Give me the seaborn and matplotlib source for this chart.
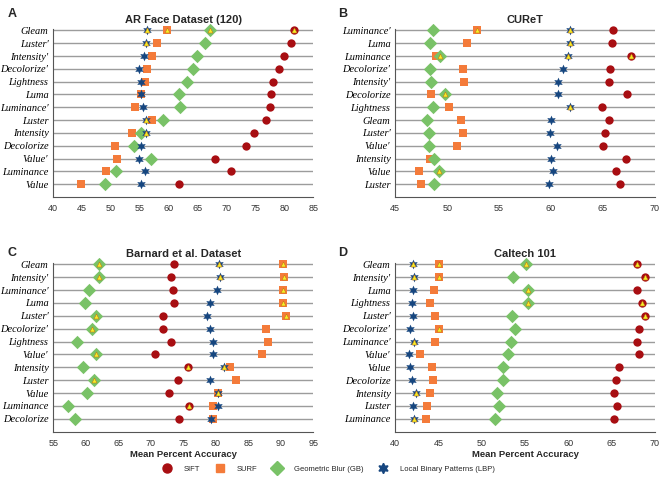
import pandas as pd
import matplotlib.pyplot as plt
import seaborn as sns
from matplotlib.ticker import MultipleLocator
from matplotlib.lines import Line2D

sns.set_style('white')
plt.rcParams['font.family'] = ['Liberation Sans', 'DejaVu Sans']

methods = ['SIFT', 'SURF', 'GB', 'LBP']
legend_names = ['SIFT', 'SURF', 'Geometric Blur (GB)', 'Local Binary Patterns (LBP)']
colors = {'SIFT': '#a80e12', 'SURF': '#f47b3a', 'GB': '#79c267', 'LBP': '#16467f'}
markers = {'SIFT': 'o', 'SURF': 's', 'GB': 'D', 'LBP': (6, 1, 0)}
sizes = {'SIFT': 6.0, 'SURF': 5.6, 'GB': 6.8, 'LBP': 7.0}

# Panel A: AR Face Dataset (120)
a_labels = ["Gleam", "Luster′", "Intensity′", "Decolorize′", "Lightness", "Luma", "Luminance′",
            "Luster", "Intensity", "Decolorize", "Value′", "Luminance", "Value"]
a_sift = [81.7, 81.1, 80.0, 79.0, 78.0, 77.7, 77.5, 76.8, 74.7, 73.4, 68.0, 70.8, 61.8]
a_surf = [59.6, 57.9, 57.1, 56.3, 55.9, 55.1, 54.1, 57.1, 53.7, 50.7, 51.0, 49.1, 44.8]
a_gb = [67.2, 66.3, 64.9, 64.1, 63.1, 61.7, 62.0, 59.0, 55.2, 54.0, 56.9, 50.8, 49.0]
a_lbp = [56.3, 56.0, 55.7, 54.9, 55.1, 55.2, 55.6, 56.0, 56.1, 55.2, 54.9, 55.8, 55.2]
a_best = {'SIFT': ["Gleam"], 'SURF': ["Gleam"], 'GB': ["Gleam"],
          'LBP': ["Gleam", "Luster′", "Luster", "Intensity"]}

# Panel B: CUReT
b_labels = ["Luminance′", "Luma", "Luminance", "Decolorize′", "Intensity′", "Decolorize", "Lightness",
            "Gleam", "Luster′", "Value′", "Intensity", "Value", "Luster"]
b_sift = [66.0, 65.9, 67.7, 65.7, 65.6, 67.3, 64.9, 65.6, 65.2, 65.0, 67.2, 66.3, 66.7]
b_surf = [52.9, 51.9, 48.9, 51.5, 51.6, 48.4, 50.2, 51.3, 51.5, 50.9, 48.3, 47.3, 47.5]
b_gb = [48.6, 48.3, 49.3, 48.3, 48.4, 49.8, 48.6, 48.1, 48.2, 48.2, 48.7, 49.2, 48.7]
b_lbp = [61.8, 61.8, 61.6, 61.2, 60.7, 60.7, 61.8, 60.0, 59.9, 60.6, 60.0, 60.2, 59.8]
b_best = {'SIFT': ["Luminance"], 'SURF': ["Luminance′"], 'GB': ["Luminance", "Decolorize", "Value"],
          'LBP': ["Luminance′", "Luma", "Luminance", "Lightness"]}

# Panel C: Barnard et al. Dataset
c_labels = ["Gleam", "Intensity′", "Luminance′", "Luma", "Luster′", "Decolorize′", "Lightness",
            "Value′", "Intensity", "Luster", "Value", "Luminance", "Decolorize"]
c_sift = [73.6, 73.1, 73.4, 73.5, 71.8, 71.9, 73.1, 70.6, 75.7, 74.2, 72.8, 75.8, 74.4]
c_surf = [90.3, 90.5, 90.3, 90.4, 90.8, 87.8, 88.0, 87.1, 82.2, 83.1, 80.4, 79.6, 79.6]
c_gb = [62.0, 62.0, 60.5, 59.8, 61.5, 61.0, 58.6, 61.6, 59.5, 61.2, 60.2, 57.3, 58.4]
c_lbp = [80.5, 80.7, 80.2, 79.1, 78.6, 79.1, 79.6, 79.6, 81.3, 79.1, 80.4, 80.4, 79.2]
c_best = {'SIFT': ["Intensity", "Luminance"],
          'SURF': ["Gleam", "Intensity′", "Luminance′", "Luma", "Luster′"],
          'GB': ["Gleam", "Intensity′", "Luster′", "Decolorize′", "Value′", "Luster"],
          'LBP': ["Gleam", "Intensity′", "Intensity", "Value"]}

# Panel D: Caltech 101
d_labels = ["Gleam", "Intensity′", "Luma", "Lightness", "Luster′", "Decolorize′", "Luminance′",
            "Value′", "Value", "Decolorize", "Intensity", "Luster", "Luminance"]
d_sift = [68.0, 68.9, 67.9, 68.5, 68.9, 68.2, 68.0, 68.2, 65.9, 65.5, 65.3, 65.6, 65.3]
d_surf = [45.0, 45.1, 44.5, 44.0, 44.6, 45.0, 44.6, 42.9, 44.3, 44.4, 44.0, 43.7, 43.5]
d_gb = [55.1, 53.6, 55.3, 55.3, 53.5, 53.8, 53.4, 53.0, 52.5, 52.4, 51.8, 52.0, 51.5]
d_lbp = [42.0, 42.2, 42.0, 41.9, 42.0, 41.7, 42.2, 41.6, 41.7, 41.9, 42.4, 42.0, 42.2]
d_best = {'SIFT': ["Gleam", "Intensity′", "Lightness", "Luster′"],
          'SURF': ["Gleam", "Intensity′", "Decolorize′"], 'GB': ["Gleam", "Luma", "Lightness"],
          'LBP': ["Gleam", "Intensity′", "Luminance′", "Intensity", "Luminance"]}

panels = [
    ('A', 'AR Face Dataset (120)', a_labels, [a_sift, a_surf, a_gb, a_lbp], a_best, (40, 85)),
    ('B', 'CUReT', b_labels, [b_sift, b_surf, b_gb, b_lbp], b_best, (45, 70)),
    ('C', 'Barnard et al. Dataset', c_labels, [c_sift, c_surf, c_gb, c_lbp], c_best, (55, 95)),
    ('D', 'Caltech 101', d_labels, [d_sift, d_surf, d_gb, d_lbp], d_best, (40, 70)),
]

W, H = 662, 488
fig = plt.figure(figsize=(6.62, 4.88), dpi=100)
# axes boxes in pixels: left, right, top, bottom (top is half a row above the first row)
boxes = [(53.3, 313.3, 24.0, 197), (395.3, 654.7, 24.0, 197),
         (53.3, 313.3, 257.8, 431.7), (395.3, 654.7, 257.8, 431.7)]
letter_pos = [(8, 8), (338, 8), (8, 247), (338, 247)]

for (letter, title, labels, series, best, xlim), box, lp in zip(panels, boxes, letter_pos):
    l, r, t, b = box
    ax = fig.add_axes([l / W, 1 - b / H, (r - l) / W, (b - t) / H])
    df = pd.DataFrame({'label': labels})
    for m, vals in zip(methods, series):
        df[m] = vals
    for m in methods:
        sns.stripplot(data=df, x=m, y='label', order=labels, orient='h', jitter=False,
                      marker=markers[m], color=colors[m], size=sizes[m], linewidth=0,
                      ax=ax, zorder=3)
    # yellow triangles mark the best-performing conversions
    for m in methods:
        sub = df[df['label'].isin(best[m])]
        sns.stripplot(data=sub, x=m, y='label', order=labels, orient='h', jitter=False,
                      marker='^', color='#f4ee2a', size=3.6, linewidth=0.4,
                      edgecolor='#c87a10', ax=ax, zorder=4)
    ax.set_xlim(*xlim)
    ax.set_ylim(13.0, -0.5)
    ax.yaxis.grid(True, color='#9c9c9c', linewidth=1.0)
    ax.xaxis.grid(False)
    ax.set_axisbelow(True)
    ax.xaxis.set_major_locator(MultipleLocator(5))
    ax.xaxis.set_minor_locator(MultipleLocator(1))
    ax.tick_params(axis='x', which='major', direction='out', length=3, width=0.8,
                   colors='#555555', labelsize=6.5, labelcolor='#333333', pad=2)
    ax.tick_params(axis='x', which='minor', direction='out', length=1.5, width=0.6, colors='#777777')
    ax.tick_params(axis='y', direction='inout', length=5, width=0.8, colors='#555555',
                   labelcolor='black', pad=1)
    for lab in ax.get_yticklabels():
        lab.set_fontfamily(['Liberation Serif', 'DejaVu Serif'])
        lab.set_fontstyle('italic')
        lab.set_fontsize(7.5)
    for s in ['top', 'right']:
        ax.spines[s].set_visible(False)
    for s in ['left', 'bottom']:
        ax.spines[s].set_color('#555555')
        ax.spines[s].set_linewidth(0.8)
    ax.spines['left'].set_bounds(-0.1, 13.0)
    ax.set_ylabel('')
    ax.set_xlabel('')
    ax.set_title(title, fontsize=8, fontweight='bold', pad=0.5)
    if letter in ('C', 'D'):
        ax.set_xlabel('Mean Percent Accuracy', fontsize=6.8, fontweight='bold', labelpad=2)
    fig.text(lp[0] / W, 1 - lp[1] / H, letter, fontsize=9, fontweight='bold', va='top', ha='left')

handles = [Line2D([], [], linestyle='none', marker=markers[m], color=colors[m],
                  markersize=sizes[m] + 0.5) for m in methods]
fig.legend(handles, legend_names, loc='center', bbox_to_anchor=(0.497, 1 - 469 / H), ncol=4,
           frameon=False, fontsize=5.5, columnspacing=2.1, handletextpad=1.7, handlelength=1)

fig.savefig('out.png', dpi=100)
